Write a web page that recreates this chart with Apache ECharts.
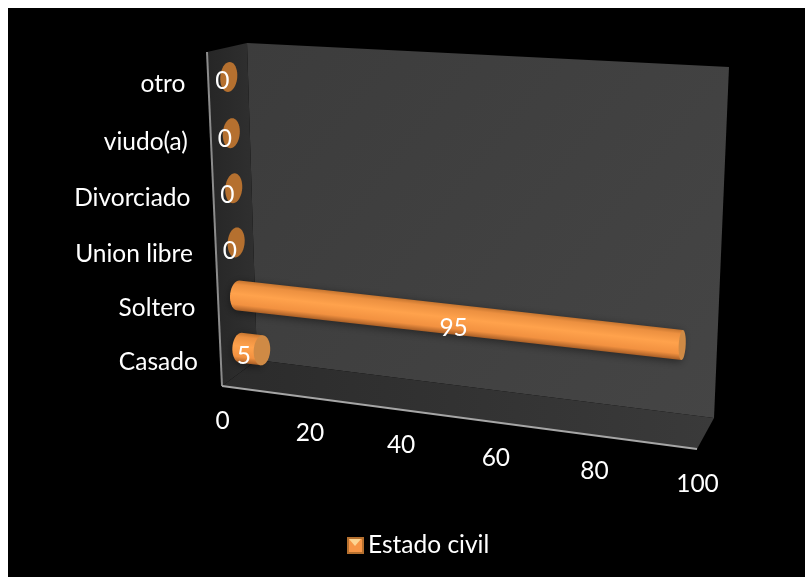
<!DOCTYPE html>
<html><head><meta charset="utf-8">
<style>html,body{margin:0;padding:0;background:#fff}#c{width:805px;height:577px}</style>
<script src="https://cdn.jsdelivr.net/npm/echarts@6/dist/echarts.min.js"></script>
</head><body><div id="c"></div>
<script>
const categories = ['Casado','Soltero','Union libre','Divorciado','viudo(a)','otro'];
const values = [5,95,0,0,0,0];
const xTicks = [0,20,40,60,80,100];
const seriesName = 'Estado civil';

const G = {left:100, top:100, width:500, height:300};
// perspective quads: [bottom-left, bottom-right, top-right, top-left]
const frontQ = [[222,386],[697,449],[707,81],[207,52]];
const backQ  = [[257,360],[714,418],[729,67],[247,43]];
const barQ   = [[242,373.5],[705,433.5],[718,75],[227.5,48.5]];
function homo(q){
  const [p0,p1,p2,p3]=q;
  const dx1=p1[0]-p2[0],dx2=p3[0]-p2[0],sx=p0[0]-p1[0]+p2[0]-p3[0];
  const dy1=p1[1]-p2[1],dy2=p3[1]-p2[1],sy=p0[1]-p1[1]+p2[1]-p3[1];
  const d=dx1*dy2-dx2*dy1;
  const g=(sx*dy2-dx2*sy)/d,h=(dx1*sy-sx*dy1)/d;
  const a=p1[0]-p0[0]+g*p1[0],b=p3[0]-p0[0]+h*p3[0],c=p0[0];
  const e=p1[1]-p0[1]+g*p1[1],f=p3[1]-p0[1]+h*p3[1],k=p0[1];
  return (u,v)=>{const w=g*u+h*v+1;return [(a*u+b*v+c)/w,(e*u+f*v+k)/w];};
}
const H={front:homo(frontQ),back:homo(backQ),bar:homo(barQ)};
const toUnit=p=>[(p[0]-G.left)/G.width,(G.top+G.height-p[1])/G.height];
const proj=(name,p)=>{const t=toUnit(p);return H[name](t[0],t[1]);};
const ORANGE=[{offset:0,color:'#C4742F'},{offset:.14,color:'#EC9040'},{offset:.45,color:'#FFA24C'},{offset:.8,color:'#F29140'},{offset:1,color:'#A85E26'}];
const LG=echarts.graphic.LinearGradient;

function renderWalls(params,api){
  const px=(u,v)=>[G.left+u*G.width,G.top+G.height-v*G.height];
  const f=(u,v)=>proj('front',px(u,v)), b=(u,v)=>proj('back',px(u,v));
  const poly=(pts,fill)=>({type:'polygon',shape:{points:pts},style:{fill},silent:true});
  return {type:'group',children:[
    poly([b(0,0),b(1,0),b(1,1),b(0,1)],new LG(0,0,1,1,[{offset:0,color:'#3C3C3C'},{offset:1,color:'#454545'}])),
    poly([f(0,0),b(0,0),b(0,1),f(0,1)],new LG(0,0,1,0,[{offset:0,color:'#262626'},{offset:1,color:'#303030'}])),
    poly([f(0,0),f(1,0),b(1,0),b(0,0)],new LG(0,0,1,0,[{offset:0,color:'#2B2B2B'},{offset:1,color:'#3A3A3A'}])),
    {type:'line',shape:{x1:f(0,0)[0],y1:f(0,0)[1],x2:f(0,1)[0],y2:f(0,1)[1]},style:{stroke:'#8C8C8C',lineWidth:2}},
    {type:'line',shape:{x1:f(0,0)[0],y1:f(0,0)[1],x2:f(1,0)[0],y2:f(1,0)[1]},style:{stroke:'#A6A6A6',lineWidth:2}}
  ]};
}
function ellipse(c,ax,ry,nx,ny,from,to,n){
  const pts=[];
  for(let i=0;i<=n;i++){const t=from+(to-from)*i/n;
    pts.push([c[0]+Math.cos(t)*ax+Math.sin(t)*ry*nx, c[1]+Math.sin(t)*ry*ny]);}
  return pts;
}
function renderBars(params,api){
  const v=api.value(0), i=api.value(1);
  const band=api.size([0,1])[1];
  const ry=band*0.3;
  const S=proj('bar',api.coord([0,i]));
  const E=proj('bar',api.coord([v,i]));
  const halfW=x=>8.5-5*x/95;
  if(v===0){
    const p=ellipse(S,halfW(0),ry,-0.06,1,0,Math.PI*2,40);
    return {type:'polygon',shape:{points:p},style:{fill:'#B5702F'}};
  }
  const dx=E[0]-S[0],dy=E[1]-S[1],L=Math.hypot(dx,dy);
  const nx=-0.05,ny=1;
  const top=(c)=>[c[0]-nx*ry,c[1]-ny*ry], bot=(c)=>[c[0]+nx*ry,c[1]+ny*ry];
  const leftHalf=ellipse(S,halfW(0),ry,nx,ny,Math.PI/2,Math.PI*1.5,20);
  const body=[top(E),bot(E),...leftHalf];
  const mx=(S[0]+E[0])/2,my=(S[1]+E[1])/2,gn=[-dy/L,dx/L];
  const fill=new LG(mx-gn[0]*ry,my-gn[1]*ry,mx+gn[0]*ry,my+gn[1]*ry,ORANGE,true);
  const cap=ellipse(E,halfW(v),ry,nx,ny,0,Math.PI*2,40);
  return {type:'group',children:[
    {type:'polygon',shape:{points:body},style:{fill,shadowBlur:8,shadowColor:'rgba(0,0,0,0.45)',shadowOffsetY:2}},
    {type:'polygon',shape:{points:cap},style:{fill:'#CF8A45'}}
  ]};
}
const FONT='24.5px Lato';
const txt=(t,p,align)=>({type:'text',style:{text:String(t),x:p[0],y:p[1],fill:'#fff',font:FONT,align:align,verticalAlign:'middle'}});
function renderDataLabels(params,api){
  const v=api.value(0),i=api.value(1);
  const p=proj('front',api.coord([v/2,i]));
  const ox=v>0?12+7*v/95:14, oy=v>0?-5+3*v/95:0;
  return txt(v,[p[0]+ox,p[1]+oy],'center');
}
function renderCatLabels(params,api){
  const i=api.value(1);
  const p=proj('front',api.coord([0,i]));
  return txt(categories[i],[p[0]-23,p[1]+3],'right');
}
function renderTicks(params,api){
  const v=api.value(0);
  const u=toUnit(api.coord([v,0]))[0];
  const p=H.front(u,0);
  return txt(v,[p[0]+0.5,p[1]+35.5],'center');
}
const chart=echarts.init(document.getElementById('c'));
const idx=categories.map((_,i)=>i);
chart.setOption({
  animation:false,
  backgroundColor:'#fff',
  grid:{left:G.left,top:G.top,width:G.width,height:G.height},
  xAxis:{type:'value',min:0,max:100,interval:20,show:false},
  yAxis:{type:'category',data:categories,show:false},
  legend:{data:[seriesName],left:342,top:528,itemWidth:15,itemHeight:15,itemGap:7,icon:'rect',
    textStyle:{color:'#fff',fontFamily:'Lato',fontSize:24.5},selectedMode:false},
  graphic:[
    {type:'rect',z:-10,silent:true,shape:{x:8,y:8,width:797,height:569},style:{fill:'#000'}},
    {type:'polygon',z:10,silent:true,shape:{points:[[349,539],[361,539],[355,546]]},style:{fill:'#FDD592'}}
  ],
  series:[
    {type:'custom',name:'walls',coordinateSystem:'cartesian2d',z:1,silent:true,data:[[0,0]],renderItem:renderWalls},
    {type:'custom',name:seriesName,coordinateSystem:'cartesian2d',z:2,silent:true,itemStyle:{color:'#F79646',borderColor:'#B5702F',borderWidth:1},
      data:values.map((v,i)=>[v,i]),renderItem:renderBars},
    {type:'custom',name:'dataLabels',coordinateSystem:'cartesian2d',z:3,silent:true,data:values.map((v,i)=>[v,i]),renderItem:renderDataLabels},
    {type:'custom',name:'catLabels',coordinateSystem:'cartesian2d',z:3,silent:true,data:idx.map(i=>[0,i]),renderItem:renderCatLabels},
    {type:'custom',name:'ticks',coordinateSystem:'cartesian2d',z:3,silent:true,data:xTicks.map(v=>[v,0]),renderItem:renderTicks}
  ]
});
</script></body></html>
